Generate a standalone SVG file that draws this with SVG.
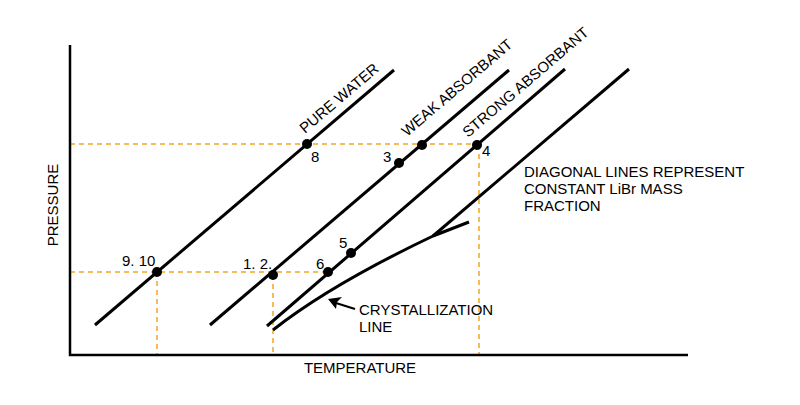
<svg xmlns="http://www.w3.org/2000/svg" width="800" height="405" viewBox="0 0 800 405">
<defs>
<style>
.ln{stroke:#000;stroke-width:3;fill:none}
.ax{stroke:#000;stroke-width:2.5;fill:none}
.dash{stroke:#f5a623;stroke-width:1.5;stroke-dasharray:5,4;fill:none}
text{font-family:"Liberation Sans",Arial,sans-serif;font-size:15px;fill:#000}
.pt{fill:#000}
</style>
</defs>
<rect width="800" height="405" fill="#fff"/>
<g id="guides">
<path class="dash" d="M70,144 H477 M70,272 H328 M157,272 V355 M273,275 V355 M479,145 V355"/>
</g>
<g id="axes">
<path class="ax" d="M70,45 V355 H688"/>
<text x="58" y="205" transform="rotate(-90 58 205)" text-anchor="middle">PRESSURE</text>
<text x="360" y="373" text-anchor="middle">TEMPERATURE</text>
</g>
<g id="connectors">
<path class="ln" d="M95,325 L394,70"/>
<path class="ln" d="M210,325 L509,70"/>
<path class="ln" d="M267,326 L565,69"/>
<path class="ln" d="M433,236 L629,69"/>
<path class="ln" d="M273,330 Q330,285 433,236 L469,222"/>
<path stroke="#000" stroke-width="2" d="M355,309 L336,303"/>
<polygon points="328,299 342,297 337,302 336,309" fill="#000"/>
</g>
<g id="line-labels">
<text transform="translate(305,134) rotate(-40.5)">PURE WATER</text>
<text transform="translate(407,137) rotate(-40.5)">WEAK ABSORBANT</text>
<text transform="translate(468,138) rotate(-40.5)">STRONG ABSORBANT</text>
</g>
<g id="points">
<circle class="pt" cx="307" cy="144" r="5"/>
<circle class="pt" cx="422" cy="145" r="5"/>
<circle class="pt" cx="477" cy="145" r="5"/>
<circle class="pt" cx="399" cy="163" r="5"/>
<circle class="pt" cx="351" cy="253" r="5"/>
<circle class="pt" cx="328" cy="272" r="5"/>
<circle class="pt" cx="273" cy="275" r="5"/>
<circle class="pt" cx="157" cy="272" r="5"/>
<text x="311" y="162">8</text>
<text x="383" y="162">3</text>
<text x="482" y="156">4</text>
<text x="339" y="248">5</text>
<text x="316" y="269">6</text>
<text x="243" y="269">1. 2.</text>
<text x="122" y="266">9. 10</text>
</g>
<g id="notes">
<text x="524" y="177">DIAGONAL LINES REPRESENT</text>
<text x="524" y="194">CONSTANT LiBr MASS</text>
<text x="524" y="211">FRACTION</text>
<text x="359" y="315">CRYSTALLIZATION</text>
<text x="359" y="332">LINE</text>
</g>
</svg>
